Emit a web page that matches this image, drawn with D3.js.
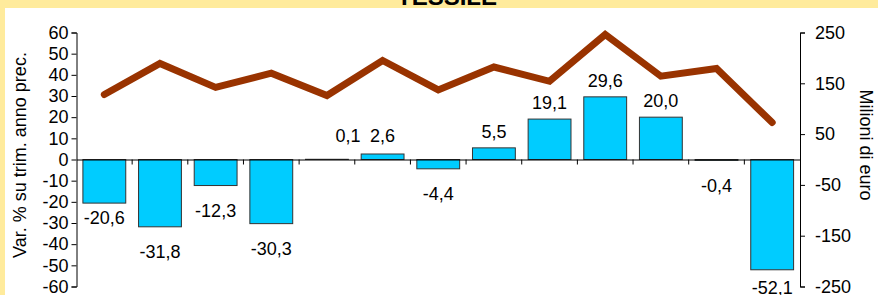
<!DOCTYPE html>
<html><head><meta charset="utf-8">
<script src="https://cdn.jsdelivr.net/npm/d3@7"></script>
<style>
html,body{margin:0;padding:0;background:#FFEB9C;}
svg{display:block;font-family:"Liberation Sans",Arial,sans-serif;}
</style></head>
<body>
<svg id="c" width="878" height="295"></svg>
<script>
const title = "TESSILE";
const categories = ["1","2","3","4","5","6","7","8","9","10","11","12","13"];
const varPct = [-20.6, -31.8, -12.3, -30.3, 0.1, 2.6, -4.4, 5.5, 19.1, 29.6, 20.0, -0.4, -52.1];
const milioni = [128, 189, 142, 170, 126, 195, 137, 182, 154, 246, 164, 179, 73];
const leftTicks = [60,50,40,30,20,10,0,-10,-20,-30,-40,-50,-60];
const rightTicks = [250,150,50,-50,-150,-250];
const leftTitle = "Var. % su trim. anno prec.";
const rightTitle = "Milioni di euro";

const svg = d3.select("#c");
svg.append("rect").attr("x",0).attr("y",0).attr("width",878).attr("height",295).attr("fill","#FFEB9C");
svg.append("rect").attr("x",5).attr("y",8).attr("width",873).attr("height",287).attr("fill","#fff");

svg.append("text").attr("x",447).attr("y",5).attr("text-anchor","middle")
  .attr("font-size",24).attr("font-weight","bold").attr("fill","#000").text(title);

const xL = 76.5, xR = 800;
const x = d3.scaleBand().domain(categories).range([xL, xR]).padding(0);
const yL = d3.scaleLinear().domain([-60,60]).range([286.5, 32.5]);
const yR = d3.scaleLinear().domain([-250,250]).range([286.5, 32.5]);
const bw = x.bandwidth()*0.77;
const fs = 18;
const intFmt = v => String(v);

// bars
svg.append("g").selectAll("rect").data(varPct).join("rect")
  .attr("x",(d,i)=>x(categories[i]) + (x.bandwidth()-bw)/2)
  .attr("y",d=>yL(Math.max(0,d)))
  .attr("width",bw)
  .attr("height",d=>Math.abs(yL(d)-yL(0)))
  .attr("fill","#00CCFF").attr("stroke","#333").attr("stroke-width",1);

// left axis
const gl = svg.append("g").attr("transform",`translate(${xL},0)`)
  .call(d3.axisLeft(yL).tickValues(leftTicks).tickSize(5).tickPadding(3).tickFormat(intFmt));
gl.select(".domain").attr("stroke","#000");
gl.selectAll(".tick line").attr("stroke","#000");
gl.selectAll("text").attr("font-size",fs).attr("font-family","Liberation Sans, Arial").attr("fill","#000");

// right axis
const gr = svg.append("g").attr("transform",`translate(${xR},0)`)
  .call(d3.axisRight(yR).tickValues(rightTicks).tickSize(5).tickPadding(10).tickFormat(intFmt));
gr.select(".domain").attr("stroke","#000");
gr.selectAll(".tick line").attr("stroke","#000");
gr.selectAll("text").attr("font-size",fs).attr("font-family","Liberation Sans, Arial").attr("fill","#000");

// category axis at zero
const gx = svg.append("g").attr("transform",`translate(0,${yL(0)})`)
  .call(d3.axisBottom(x).tickValues([]).tickSizeOuter(0));
gx.select(".domain").attr("stroke","#000");
svg.append("g").selectAll("line").data(categories.slice(1)).join("line")
  .attr("x1",d=>x(d)).attr("x2",d=>x(d))
  .attr("y1",yL(0)).attr("y2",yL(0)+5).attr("stroke","#000");

// line
const line = d3.line().x((d,i)=>x(categories[i])+x.bandwidth()/2).y(d=>yR(d));
svg.append("path").datum(milioni).attr("d",line)
  .attr("fill","none").attr("stroke","#993300").attr("stroke-width",7)
  .attr("stroke-linejoin","miter").attr("stroke-linecap","round");

// data labels
const nudgeX = {4: 21};
const nudgeY = {0: -10};
const fmt = v => v.toFixed(1).replace(".",",");
svg.append("g").selectAll("text").data(varPct).join("text")
  .attr("x",(d,i)=>x(categories[i])+x.bandwidth()/2 + (nudgeX[i]||0))
  .attr("y",(d,i)=>{
    let c = d>=0 ? Math.min(yL(d)-16, yL(0)-24) : Math.min(yL(d)+25, 288);
    return c + (nudgeY[i]||0);
  })
  .attr("dy","0.35em").attr("text-anchor","middle").attr("font-size",fs).attr("fill","#000")
  .text(fmt);

// axis titles
svg.append("text").attr("transform","translate(20,155) rotate(-90)")
  .attr("text-anchor","middle").attr("dy","0.35em").attr("font-size",fs).text(leftTitle);
svg.append("text").attr("transform","translate(866,145) rotate(90)")
  .attr("text-anchor","middle").attr("dy","0.35em").attr("font-size",fs).text(rightTitle);
</script>
</body></html>
